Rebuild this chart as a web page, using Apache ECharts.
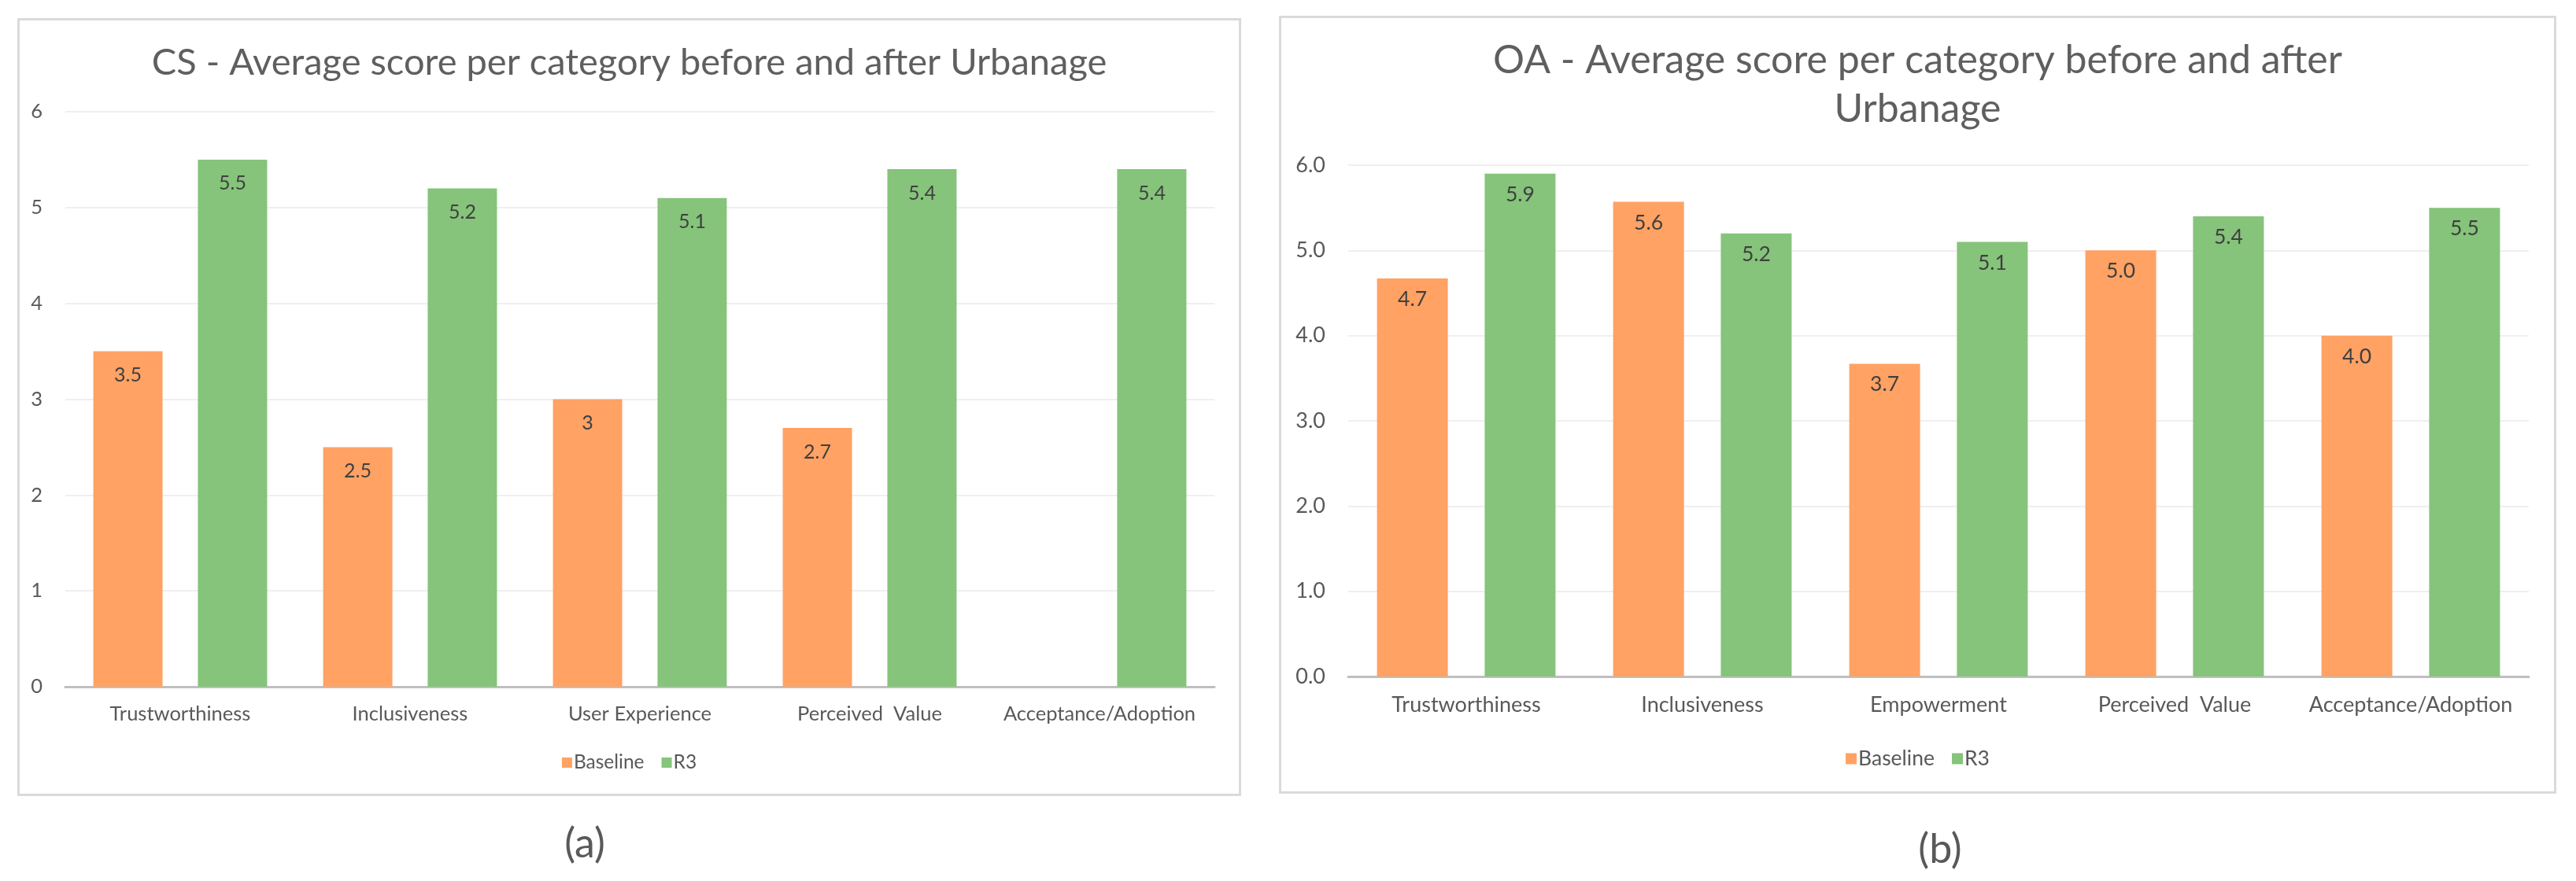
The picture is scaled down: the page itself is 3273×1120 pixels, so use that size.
<!DOCTYPE html>
<html><head><meta charset="utf-8">
<script src="https://cdn.jsdelivr.net/npm/echarts/dist/echarts.min.js"></script>
<style>
html,body{margin:0;padding:0;background:#fff;width:3273px;height:1120px;overflow:hidden;}
.chart{position:absolute;}
.frame{position:absolute;box-sizing:border-box;border:3px solid #dadada;pointer-events:none;z-index:5;}
.cap{position:absolute;font-family:Lato,sans-serif;font-size:52px;color:#595959;transform:translate(-50%,-50%);white-space:nowrap;}
</style></head>
<body>
<div id="cs" class="chart" style="left:22px;top:23px;width:1555px;height:989px;"></div>
<div class="frame" style="left:22px;top:23px;width:1555px;height:989px;"></div>
<div id="oa" class="chart" style="left:1625px;top:20px;width:1623px;height:989px;"></div>
<div class="frame" style="left:1625px;top:20px;width:1623px;height:989px;"></div>
<div class="cap" style="left:743px;top:1070px;">(a)</div>
<div class="cap" style="left:2465px;top:1077px;">(b)</div>
<script>
// ---- data ----
const seriesNames = ['Baseline', 'R3'];
const categoriesCS = ['Trustworthiness', 'Inclusiveness', 'User Experience', 'Perceived  Value', 'Acceptance/Adoption'];
const baselineCS = [3.5, 2.5, 3, 2.7, null];
const r3CS = [5.5, 5.2, 5.1, 5.4, 5.4];
const categoriesOA = ['Trustworthiness', 'Inclusiveness', 'Empowerment', 'Perceived  Value', 'Acceptance/Adoption'];
const baselineOA = [4.67, 5.57, 3.67, 5.0, 4.0];
const r3OA = [5.9, 5.2, 5.1, 5.4, 5.5];
const titleCS = 'CS - Average score per category before and after Urbanage';
const titleOA = 'OA - Average score per category before and after\nUrbanage';
const yMin = 0, yMax = 6, yStep = 1;

const FONT = 'Lato';
const ORANGE = '#FFA264';
const GREEN = '#85C47A';

function build(cfg) {
  const s = cfg.fs;
  return {
    animation: false,
    backgroundColor: 'transparent',
    title: {
      text: cfg.title, left: 'center', top: cfg.titleTop,
      textStyle: { fontFamily: FONT, fontSize: s.title, fontWeight: 'normal', color: '#5f5f5f', lineHeight: 62 }
    },
    legend: {
      data: seriesNames, left: 'center', top: cfg.legendTop,
      icon: 'rect', itemWidth: s.icon, itemHeight: s.icon, itemGap: 22,
      textStyle: { fontFamily: FONT, fontSize: s.legend, color: '#595959', padding: [0, 0, 0, -3] }
    },
    grid: Object.assign({ containLabel: false, outerBoundsMode: 'none' }, cfg.grid),
    xAxis: {
      type: 'category', data: cfg.categories,
      axisLine: { lineStyle: { color: '#bfbfbf', width: 3 } },
      axisTick: { show: false },
      axisLabel: { fontFamily: FONT, fontSize: s.cat, color: '#595959', margin: cfg.catMargin, interval: 0 }
    },
    yAxis: {
      type: 'value', min: yMin, max: yMax, interval: yStep,
      axisLine: { show: false }, axisTick: { show: false },
      splitLine: { lineStyle: { color: '#efefef', width: 2 } },
      axisLabel: { fontFamily: FONT, fontSize: s.y, color: '#595959', margin: 29, formatter: cfg.yFmt }
    },
    series: [
      { name: seriesNames[0], type: 'bar', data: cfg.base, barWidth: cfg.barWidth, barGap: cfg.barGap,
        itemStyle: { color: ORANGE },
        label: { show: true, position: 'insideTop', distance: cfg.valDist, fontFamily: FONT, fontSize: s.val, color: '#404040', formatter: cfg.vFmt } },
      { name: seriesNames[1], type: 'bar', data: cfg.r3, barWidth: cfg.barWidth, barGap: cfg.barGap,
        itemStyle: { color: GREEN },
        label: { show: true, position: 'insideTop', distance: cfg.valDist, fontFamily: FONT, fontSize: s.val, color: '#404040', formatter: cfg.vFmt } }
    ]
  };
}

const cs = echarts.init(document.getElementById('cs'), null, { renderer: 'canvas' });
cs.setOption(build({
  title: titleCS, titleTop: 21, legendTop: 929,
  fs: { title: 47, cat: 25.5, val: 25, y: 25.5, legend: 24.5, icon: 13 },
  catMargin: 22, valDist: 18,
  categories: categoriesCS, base: baselineCS, r3: r3CS,
  grid: { left: 61, top: 119, width: 1460, height: 731 },
  barWidth: 88, barGap: '51%',
  yFmt: v => String(v),
  vFmt: p => String(p.value)
}));

const oa = echarts.init(document.getElementById('oa'), null, { renderer: 'canvas' });
oa.setOption(build({
  title: titleOA, titleTop: 21, legendTop: 926,
  fs: { title: 50, cat: 27, val: 26.5, y: 27, legend: 26.5, icon: 14 },
  catMargin: 23, valDist: 13,
  categories: categoriesOA, base: baselineOA, r3: r3OA,
  grid: { left: 88, top: 190, width: 1500, height: 650 },
  barWidth: 90, barGap: '52%',
  yFmt: v => v.toFixed(1),
  vFmt: p => Number(p.value).toFixed(1)
}));
</script>
</body></html>
